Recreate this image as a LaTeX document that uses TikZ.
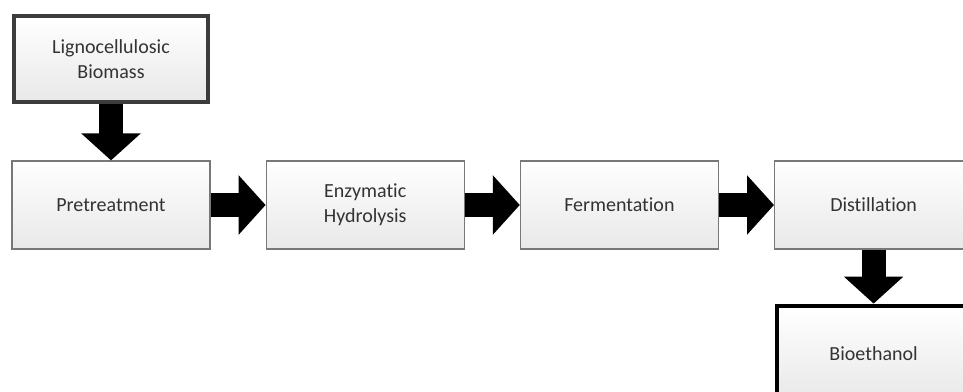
\documentclass[tikz,border=0pt]{standalone}
\usepackage{fontspec}
\setmainfont[Ligatures=NoCommon]{Carlito}
\usetikzlibrary{positioning,arrows.meta}
\definecolor{boxtext}{RGB}{51,51,51}
\definecolor{boxline}{RGB}{120,120,120}
\definecolor{darkline}{RGB}{60,60,60}
\tikzset{
  stepbox/.style={draw=boxline, line width=1.2pt, top color=white, bottom color=black!9,
    minimum width=198pt, minimum height=88pt, align=center, text=boxtext,
    font=\fontsize{20}{25}\selectfont, inner sep=0pt},
  endbox/.style={stepbox, draw=black, line width=4pt, minimum width=194pt, minimum height=86pt},
  bigarrow/.style={line width=24pt, black, -{Triangle[width=58pt,length=27pt]}}
}
\begin{document}
\begin{tikzpicture}[x=1pt,y=1pt,node distance=55pt and 55pt]
    \clip (0,0) rectangle (963,-391);
    \fill[white] (0,0) rectangle (963,-391);
    % process chain
    \node[stepbox] (pre) at (111,-205) {Pretreatment};
    \node[endbox, draw=darkline, above=56pt of pre] (bio) {Lignocellulosic\\Biomass};
    \node[stepbox, right=of pre] (enz) {Enzymatic\\Hydrolysis};
    \node[stepbox, right=of enz] (fer) {Fermentation};
    \node[stepbox, right=of fer] (dis) {Distillation};
    \node[endbox, minimum height=96pt, below=54pt of dis] (eth) {Bioethanol};
    % arrows
    \draw[bigarrow] (bio) -- (pre);
    \draw[bigarrow] (pre) -- (enz);
    \draw[bigarrow] (enz) -- (fer);
    \draw[bigarrow] (fer) -- (dis);
    \draw[bigarrow] (dis) -- (eth);
\end{tikzpicture}
\end{document}
